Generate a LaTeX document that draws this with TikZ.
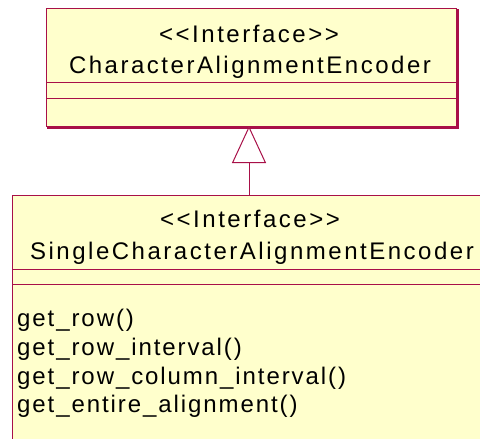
\documentclass[tikz,border=0pt]{standalone}
\usepackage{fontspec}
\setmainfont{Liberation Sans}[LetterSpace=8]
\newfontfamily\titlefont{Liberation Sans}[LetterSpace=10.5]
\usetikzlibrary{arrows.meta}
\definecolor{umlborder}{RGB}{168,16,72}
\definecolor{umlfill}{RGB}{255,255,204}
\newcommand{\stereo}[1]{{<}{<}#1{>}{>}}
\tikzset{
  classbox/.style={draw=umlborder, fill=umlfill, line width=1pt, rectangle, inner sep=0pt, anchor=north west},
  divider/.style={draw=umlborder, line width=1pt},
  shadowedge/.style={draw=umlborder, line width=2pt},
  label/.style={inner sep=0pt, anchor=base, font=\titlefont\fontsize{24}{28.7}\selectfont},
  member/.style={inner sep=0pt, anchor=base west, font=\fontsize{24}{28.7}\selectfont},
  realize/.style={draw=umlborder, line width=1pt, -{Triangle[open, length=37pt, width=34pt, fill=white]}}
}
\begin{document}
\begin{tikzpicture}[x=1pt, y=-1pt]
  \useasboundingbox (0,0) rectangle (480,439);
  \begin{scope}
    \clip (0,0) rectangle (480,439);

    % super interface
    \node[classbox, minimum width=410pt, minimum height=118pt] (top) at (46,8) {};
    \draw[shadowedge] ([xshift=1pt,yshift=-1pt]top.north east) -- ([xshift=1pt,yshift=-1pt]top.south east) -- ([xshift=1pt,yshift=-1pt]top.south west);
    \draw[divider] (top.west |- 0,82) -- (top.east |- 0,82);
    \draw[divider] (top.west |- 0,98) -- (top.east |- 0,98);
    \node[label] (topstereo) at (249,42) {\stereo{Interface}};
    \node[label] (topname) at (250,73) {CharacterAlignmentEncoder};

    % sub interface
    \node[classbox, minimum width=478pt, minimum height=280pt] (sub) at (12,195) {};
    \draw[divider] (sub.west |- 0,269) -- (sub.east |- 0,269);
    \draw[divider] (sub.west |- 0,284) -- (sub.east |- 0,284);
    \node[label] (substereo) at (250,227) {\stereo{Interface}};
    \node[label] (subname) at (252,259) {SingleCharacterAlignmentEncoder};
    \node[member] (m1) at (17,326.7) {get\_row()};
    \node[member] (m2) at (17,355.3) {get\_row\_interval()};
    \node[member] (m3) at (17,384) {get\_row\_column\_interval()};
    \node[member] (m4) at (17,412.7) {get\_entire\_alignment()};

    % realization arrow
    \coordinate (apex) at (249,126);
    \draw[realize] (sub.north -| apex) -- (apex);
  \end{scope}
\end{tikzpicture}
\end{document}
